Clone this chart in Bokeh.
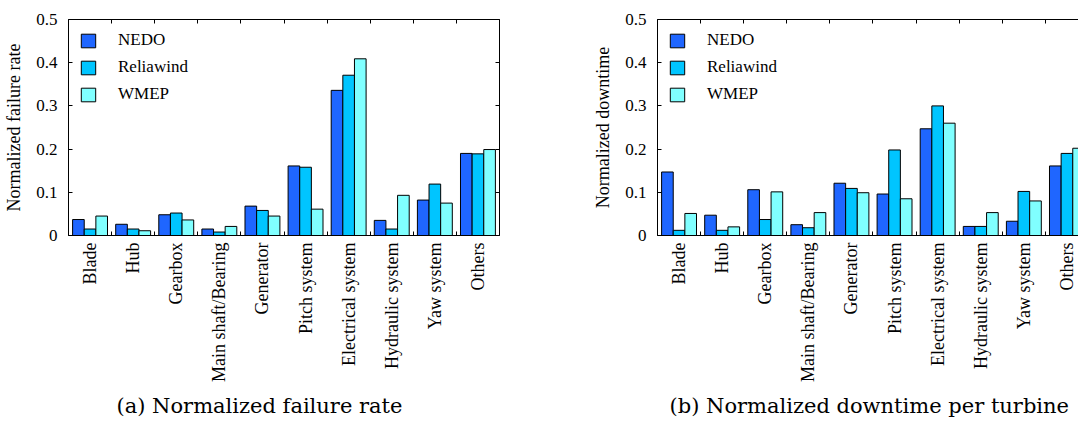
import math
from bokeh.plotting import figure
from bokeh.models import ColumnDataSource, LinearAxis, FixedTicker, Range1d, Title
from bokeh.layouts import row
from bokeh.transform import dodge
from bokeh.embed import file_html
from bokeh.resources import INLINE

categories = ["Blade", "Hub", "Gearbox", "Main shaft/Bearing", "Generator",
              "Pitch system", "Electrical system", "Hydraulic system", "Yaw system", "Others"]
series = ["NEDO", "Reliawind", "WMEP"]
failure_nedo = [0.037, 0.026, 0.048, 0.015, 0.068, 0.161, 0.336, 0.035, 0.082, 0.190]
failure_reliawind = [0.015, 0.015, 0.052, 0.008, 0.058, 0.158, 0.371, 0.015, 0.119, 0.189]
failure_wmep = [0.045, 0.011, 0.036, 0.021, 0.045, 0.061, 0.409, 0.093, 0.075, 0.199]
downtime_nedo = [0.147, 0.047, 0.106, 0.025, 0.121, 0.096, 0.247, 0.021, 0.033, 0.161]
downtime_reliawind = [0.012, 0.012, 0.037, 0.018, 0.109, 0.198, 0.300, 0.021, 0.102, 0.190]
downtime_wmep = [0.051, 0.020, 0.101, 0.053, 0.099, 0.085, 0.260, 0.053, 0.080, 0.202]
y_ticks = [0, 0.1, 0.2, 0.3, 0.4, 0.5]
colors = ["#1F66FF", "#00C5FF", "#80FFFF"]

SERIF = "Liberation Serif"


def make_chart(vals, ylabel, caption, x_end, b_left, b_right, cap_x, right_axis):
    pos = [i + 0.5 for i in range(len(categories))]
    bounds = list(range(len(categories) + 1))
    src = ColumnDataSource(dict(pos=pos, cat=categories, s0=vals[0], s1=vals[1], s2=vals[2]))
    p = figure(width=539, height=425, output_backend="svg", toolbar_location=None,
               x_range=Range1d(0, x_end), y_range=Range1d(0, 0.5),
               x_axis_type=None, y_axis_type=None,
               min_border_left=b_left, min_border_right=b_right,
               min_border_top=19, min_border_bottom=189)
    p.outline_line_color = None
    p.background_fill_color = "white"
    p.border_fill_color = "white"

    offsets = [-0.27, 0.0, 0.27]
    for k, (name, col) in enumerate(zip(series, ["s0", "s1", "s2"])):
        p.vbar(x=dodge("pos", offsets[k], range=p.x_range), top=col, bottom=0, width=0.27,
               source=src, fill_color=colors[k], line_color="black", line_width=1,
               legend_label=name)

    left = LinearAxis(ticker=FixedTicker(ticks=y_ticks), major_label_overrides={0: "0"},
                      axis_label=ylabel, major_tick_in=4, major_tick_out=0,
                      minor_tick_in=0, minor_tick_out=0,
                      major_label_standoff=11, axis_label_standoff=9)
    left.major_label_text_font = SERIF
    left.major_label_text_font_size = "17px"
    left.major_label_text_color = "black"
    left.axis_label_text_font = SERIF
    left.axis_label_text_font_size = "18px"
    left.axis_label_text_font_style = "normal"
    left.axis_label_text_color = "black"
    p.add_layout(left, "left")

    bottom = LinearAxis(ticker=FixedTicker(ticks=pos, minor_ticks=bounds),
                        major_label_overrides={x: c for x, c in zip(pos, categories)},
                        major_tick_in=0, major_tick_out=0, minor_tick_in=4, minor_tick_out=0,
                        major_label_orientation=math.pi / 2, major_label_standoff=7)
    bottom.major_label_text_font = SERIF
    bottom.major_label_text_font_size = "18px"
    bottom.major_label_text_color = "black"
    p.add_layout(bottom, "below")

    top = LinearAxis(ticker=FixedTicker(ticks=[], minor_ticks=bounds),
                     major_tick_in=0, major_tick_out=0, minor_tick_in=4, minor_tick_out=0,
                     major_label_standoff=0)
    p.add_layout(top, "above")

    if right_axis:
        r = LinearAxis(ticker=FixedTicker(ticks=[], minor_ticks=y_ticks),
                       major_tick_in=0, major_tick_out=0, minor_tick_in=4, minor_tick_out=0,
                       major_label_standoff=0)
        p.add_layout(r, "right")

    lg = p.legend[0]
    lg.location = "top_left"
    lg.margin = 11
    lg.padding = 9
    lg.glyph_width = 18
    lg.glyph_height = 17
    lg.label_height = 17
    lg.spacing = 7
    lg.label_standoff = 21
    lg.label_text_font = SERIF
    lg.label_text_font_size = "17px"
    lg.label_text_color = "black"
    lg.border_line_color = None
    lg.background_fill_alpha = 0

    cap = Title(text=caption, align="left", offset=cap_x, standoff=15,
                text_font="DejaVu Serif", text_font_size="21px", text_color="black",
                text_font_style="normal")
    p.add_layout(cap, "below")
    return p


p1 = make_chart([failure_nedo, failure_reliawind, failure_wmep], "Normalized failure rate",
                "(a) Normalized failure rate", 10, 68, 40, 48, True)
p2 = make_chart([downtime_nedo, downtime_reliawind, downtime_wmep], "Normalized downtime",
                "(b) Normalized downtime per turbine", 9.768, 118, 0, 12, False)

layout = row(p1, p2, spacing=0)
open("out.html", "w").write(file_html(layout, INLINE))
